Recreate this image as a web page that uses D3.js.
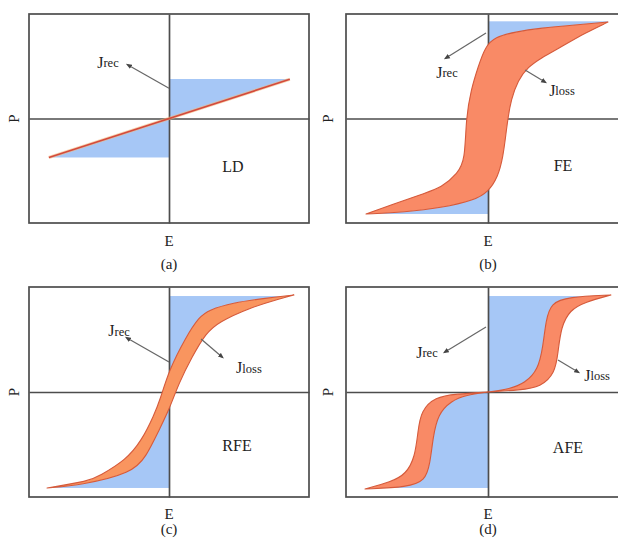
<!DOCTYPE html>
<html>
<head>
<meta charset="utf-8">
<script src="https://cdn.jsdelivr.net/npm/d3@7"></script>
<style>
  html, body { margin: 0; padding: 0; background: #fff; }
  svg { display: block; }
  text { font-family: "Liberation Serif", "Times New Roman", serif; fill: #222; }
</style>
</head>
<body>
<svg id="chart" width="618" height="538"></svg>
<script>
// P–E loops in normalised units (E and P both span -1..1 inside each frame)

// (a) linear dielectric: straight line through the origin
const ldLine = [[-0.858, -0.373], [0.863, 0.375]];

// (b) ferroelectric: wide square-ish loop
const feUpper = [
  [-0.859, -0.914], [-0.683, -0.828], [-0.444, -0.713], [-0.331, -0.665],
  [-0.211, -0.522], [-0.162, -0.397], [-0.155, 0.005], [-0.120, 0.273],
  [-0.070, 0.493], [-0.021, 0.684], [0.049, 0.780], [0.190, 0.828],
  [0.373, 0.866], [0.613, 0.895], [0.845, 0.923]
];
const feLower = [
  [-0.859, -0.914], [-0.585, -0.895], [-0.331, -0.856], [-0.092, -0.780],
  [0.000, -0.703], [0.070, -0.560], [0.106, -0.368], [0.127, -0.139],
  [0.141, 0.005], [0.162, 0.177], [0.211, 0.368], [0.282, 0.493],
  [0.373, 0.579], [0.514, 0.684], [0.683, 0.818], [0.845, 0.923]
];

// (c) relaxor ferroelectric: slim loop
const rfeUpper = [
  [-0.871, -0.914], [-0.571, -0.848], [-0.500, -0.800], [-0.307, -0.648],
  [-0.193, -0.457], [-0.107, -0.219], [-0.064, -0.076], [0.000, 0.210],
  [0.121, 0.524], [0.214, 0.714], [0.286, 0.781], [0.450, 0.848],
  [0.693, 0.895], [0.893, 0.924]
];
const rfeLower = [
  [-0.871, -0.914], [-0.621, -0.886], [-0.264, -0.771], [-0.164, -0.619],
  [-0.071, -0.362], [0.000, -0.171], [0.071, 0.086], [0.164, 0.333],
  [0.264, 0.562], [0.357, 0.667], [0.571, 0.800], [0.807, 0.895],
  [0.893, 0.924]
];

// (d) antiferroelectric: double loop, one in each quadrant
const afePosUpper = [
  [0.000, 0.000], [0.155, 0.029], [0.261, 0.086], [0.352, 0.210],
  [0.387, 0.429], [0.408, 0.686], [0.444, 0.848], [0.563, 0.905],
  [0.866, 0.924]
];
const afePosLower = [
  [0.000, 0.000], [0.225, 0.019], [0.373, 0.048], [0.472, 0.181],
  [0.493, 0.371], [0.514, 0.619], [0.577, 0.781], [0.683, 0.857],
  [0.866, 0.924]
];
const afeNegUpper = [
  [0.000, 0.000], [-0.225, -0.019], [-0.373, -0.048], [-0.472, -0.181],
  [-0.493, -0.371], [-0.514, -0.619], [-0.577, -0.781], [-0.683, -0.857],
  [-0.866, -0.924]
];
const afeNegLower = [
  [0.000, 0.000], [-0.155, -0.029], [-0.261, -0.086], [-0.352, -0.210],
  [-0.387, -0.429], [-0.408, -0.686], [-0.444, -0.848], [-0.563, -0.905],
  [-0.866, -0.924]
];

// Saturation polarisation bounding the blue energy areas
const pMaxTop = [0.378, 0.93, 0.914, 0.914];
const pMaxBottom = [-0.373, -0.914, -0.914, -0.914];

const panelNames = ["LD", "FE", "RFE", "AFE"];
const panelTags = ["(a)", "(b)", "(c)", "(d)"];
const axisLabelX = "E";
const axisLabelY = "P";

// ---------------------------------------------------------------
const svg = d3.select("#chart");
const defs = svg.append("defs");
const BLUE = "#a6c7f6";
const FRAME = "#4d4d4d";
const LOOP_STROKE = "#d55a3b";

const layout = [
  { x0: 29, x1: 309, y0: 14, y1: 223, eY: 241, tagY: 264, pX: 14 },
  { x0: 346, x1: 630, y0: 14, y1: 223, eY: 241, tagY: 264, pX: 328 },
  { x0: 29, x1: 309, y0: 287, y1: 497, eY: 514, tagY: 529, pX: 14 },
  { x0: 346, x1: 630, y0: 287, y1: 497, eY: 514, tagY: 529, pX: 328 }
];

// Annotation placement in panel units
const notes = [
  { rec: { t: [-0.436, 0.541], from: [0.0, 0.29], to: [-0.293, 0.512] }, name: [0.457, -0.464] },
  { rec: { t: [-0.289, 0.445], from: [-0.014, 0.818], to: [-0.296, 0.579] },
    loss: { t: [0.521, 0.273], from: [0.261, 0.464], to: [0.401, 0.349] }, name: [0.528, -0.445] },
  { rec: { t: [-0.357, 0.590], from: [0.0, 0.286], to: [-0.300, 0.514] },
    loss: { t: [0.571, 0.238], from: [0.229, 0.505], to: [0.379, 0.333] }, name: [0.486, -0.505] },
  { rec: { t: [-0.430, 0.381], from: [-0.014, 0.619], to: [-0.303, 0.381] },
    loss: { t: [0.768, 0.162], from: [0.493, 0.305], to: [0.634, 0.190] }, name: [0.563, -0.524] }
];

defs.append("marker")
  .attr("id", "head")
  .attr("viewBox", "0 0 10 10")
  .attr("refX", 6).attr("refY", 5)
  .attr("markerWidth", 5).attr("markerHeight", 5)
  .attr("orient", "auto")
  .append("path").attr("d", "M0,1 L10,5 L0,9 Z").attr("fill", "#444");

function drawPanel(i) {
  const L = layout[i];
  const x = d3.scaleLinear().domain([-1, 1]).range([L.x0, L.x1]);
  const y = d3.scaleLinear().domain([-1, 1]).range([L.y1, L.y0]);
  const g = svg.append("g");
  const smooth = d3.line().x(d => x(d[0])).y(d => y(d[1])).curve(d3.curveBasis);
  const poly = d3.line().x(d => x(d[0])).y(d => y(d[1]));
  // smooth branch followed by straight corner points, closed
  const shape = (branch, corners) => smooth(branch) + poly(corners).replace(/^M/, "L") + "Z";

  // Blue recoverable-energy area: the quadrant rectangle between the P axis
  // and the saturation level, clipped to the side of the bounding branch.
  const blue = (e0, e1, p0, p1, clipD, key) => {
    const id = `clip-${i}-${key}`;
    defs.append("clipPath").attr("id", id).append("path").attr("d", clipD);
    g.append("rect")
      .attr("x", x(Math.min(e0, e1))).attr("y", y(Math.max(p0, p1)))
      .attr("width", Math.abs(x(e1) - x(e0))).attr("height", Math.abs(y(p1) - y(p0)))
      .attr("fill", BLUE).attr("clip-path", `url(#${id})`);
  };
  const last = a => a[a.length - 1];

  let loops = [];
  if (i === 0) {
    const [lo, hi] = ldLine;
    blue(0, hi[0], 0, pMaxTop[0], poly([[0, 0], hi, [-1, 1]]) + "Z", "t");
    blue(lo[0], 0, pMaxBottom[0], 0, poly([[0, 0], lo, [1, -1]]) + "Z", "b");
  } else if (i === 1 || i === 2) {
    const up = i === 1 ? feUpper : rfeUpper;
    const lo = i === 1 ? feLower : rfeLower;
    loops = [[up, lo]];
    blue(0, last(up)[0], 0, pMaxTop[i], shape(up, [[1, 1], [-1, 1], [-1, up[0][1]]]), "t");
    blue(lo[0][0], 0, pMaxBottom[i], 0, shape(lo, [[1, last(lo)[1]], [1, -1], [-1, -1]]), "b");
  } else {
    loops = [[afePosUpper, afePosLower], [afeNegUpper, afeNegLower]];
    blue(0, last(afePosUpper)[0], 0, pMaxTop[3], shape(afePosUpper, [[1, 1], [-1, 1], [-1, 0]]), "t");
    blue(last(afeNegLower)[0], 0, pMaxBottom[3], 0, shape(afeNegLower, [[-1, -1], [1, -1], [1, 0]]), "b");
  }

  // frame
  g.append("rect")
    .attr("x", L.x0).attr("y", L.y0)
    .attr("width", L.x1 - L.x0).attr("height", L.y1 - L.y0)
    .attr("fill", "none").attr("stroke", FRAME).attr("stroke-width", 1.7);

  // E and P axes through the origin
  const yAxis = d3.axisLeft(y).tickValues([]).tickSizeOuter(0);
  const xAxis = d3.axisBottom(x).tickValues([]).tickSizeOuter(0);
  const ga = g.append("g").attr("transform", `translate(${x(0)},0)`).call(yAxis);
  const gb = g.append("g").attr("transform", `translate(0,${y(0)})`).call(xAxis);
  [ga, gb].forEach(a => a.select(".domain").attr("stroke", FRAME).attr("stroke-width", 1.7));

  // loops
  if (i === 0) {
    g.append("path").attr("d", poly(ldLine)).attr("stroke", "#f3b77a").attr("stroke-width", 3.2).attr("fill", "none").attr("opacity", 0.6);
    g.append("path").attr("d", poly(ldLine)).attr("stroke", "#d44a3c").attr("stroke-width", 1.6).attr("fill", "none");
  }
  const fill = i === 2 ? "#f9955f" : "#f98a66";
  loops.forEach(([up, lo]) => {
    const d = smooth(up) + smooth(lo.slice().reverse()).replace(/^M/, "L") + "Z";
    g.append("path").attr("d", d).attr("fill", fill)
      .attr("stroke", LOOP_STROKE).attr("stroke-width", 1.1).attr("stroke-linejoin", "round");
  });

  // annotations
  const n = notes[i];
  const label = (pos, sub) => {
    const t = g.append("text")
      .attr("x", x(pos[0])).attr("y", y(pos[1]))
      .attr("text-anchor", "middle").attr("dominant-baseline", "central");
    t.append("tspan").attr("font-size", 16).text("J");
    t.append("tspan").attr("font-size", 12.5).attr("dy", 1.5).text(sub);
  };
  const arrow = a => g.append("line")
    .attr("x1", x(a.from[0])).attr("y1", y(a.from[1]))
    .attr("x2", x(a.to[0])).attr("y2", y(a.to[1]))
    .attr("stroke", "#666").attr("stroke-width", 1.2)
    .attr("marker-end", "url(#head)");
  arrow(n.rec); label(n.rec.t, "rec");
  if (n.loss) { arrow(n.loss); label(n.loss.t, "loss"); }

  g.append("text").attr("x", x(n.name[0])).attr("y", y(n.name[1]))
    .attr("text-anchor", "middle").attr("dominant-baseline", "central")
    .attr("font-size", 16).text(panelNames[i]);

  // axis titles and panel tag
  svg.append("text").attr("x", x(0)).attr("y", L.eY)
    .attr("text-anchor", "middle").attr("dominant-baseline", "central")
    .attr("font-size", 15).text(axisLabelX);
  svg.append("text").attr("x", x(0)).attr("y", L.tagY)
    .attr("text-anchor", "middle").attr("dominant-baseline", "central")
    .attr("font-size", 15).text(panelTags[i]);
  svg.append("text")
    .attr("transform", `translate(${L.pX},${y(0)}) rotate(-90)`)
    .attr("text-anchor", "middle").attr("dominant-baseline", "central")
    .attr("font-size", 15).text(axisLabelY);
}

[0, 1, 2, 3].forEach(drawPanel);
</script>
</body>
</html>
